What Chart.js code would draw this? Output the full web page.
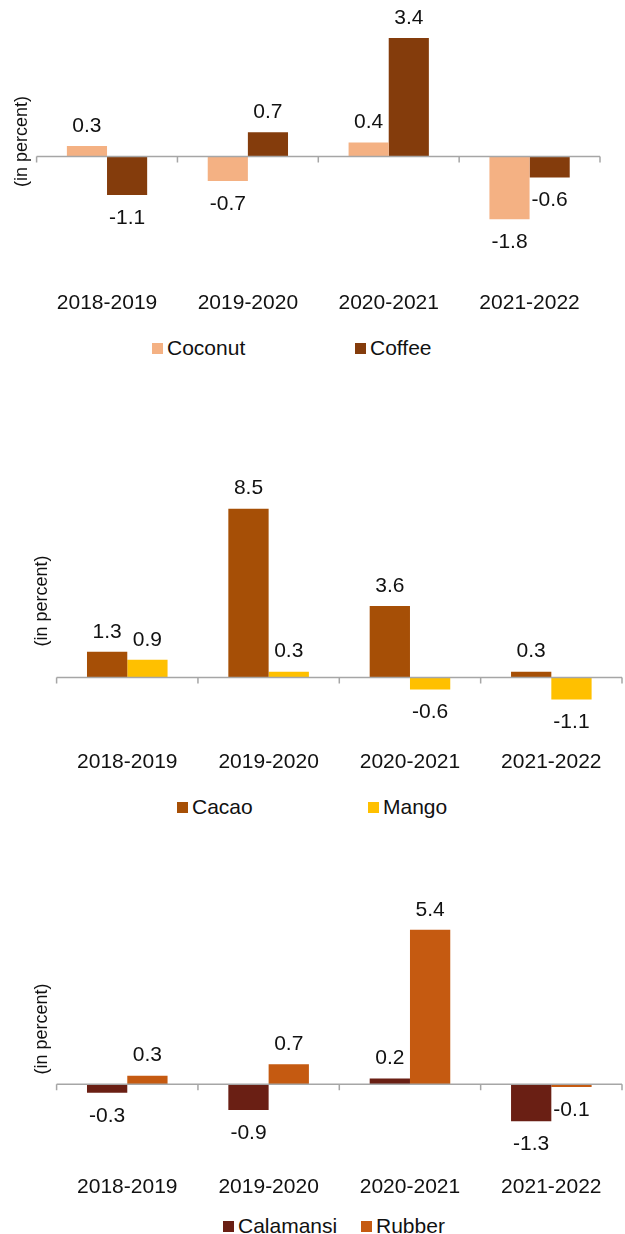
<!DOCTYPE html>
<html>
<head>
<meta charset="utf-8">
<script src="https://cdn.jsdelivr.net/npm/chart.js@4.4.1/dist/chart.umd.min.js"></script>
<style>
  body { margin: 0; background: #fff; width: 625px; height: 1234px; position: relative; overflow: hidden;
         font-family: "Liberation Sans", Arial, sans-serif; }
  canvas { position: absolute; left: 0; }
  .item { position: absolute; font-size: 21px; line-height: 24px; color: #111; white-space: nowrap; }
  .item i { display: inline-block; width: 11px; height: 11px; margin-right: 4px; vertical-align: 1px; }
</style>
</head>
<body>
<canvas id="chart1" width="625" height="324" style="top:0px"></canvas>
<canvas id="chart2" width="625" height="363" style="top:420px"></canvas>
<canvas id="chart3" width="625" height="368" style="top:840px"></canvas>

<div class="item" style="left:152px;top:336px"><i style="background:#F4B183"></i>Coconut</div>
<div class="item" style="left:355px;top:336px"><i style="background:#843C0C"></i>Coffee</div>
<div class="item" style="left:177px;top:795px"><i style="background:#A64F06"></i>Cacao</div>
<div class="item" style="left:368px;top:795px"><i style="background:#FFC000"></i>Mango</div>
<div class="item" style="left:223px;top:1214px"><i style="background:#6A1F14"></i>Calamansi</div>
<div class="item" style="left:361px;top:1214px"><i style="background:#C55A11"></i>Rubber</div>

<script>
// data (growth, in percent)
const years = ['2018-2019', '2019-2020', '2020-2021', '2021-2022']
const coconut = [0.3, -0.7, 0.4, -1.8]
const coffee = [-1.1, 0.7, 3.4, -0.6]
const cacao = [1.3, 8.5, 3.6, 0.3]
const mango = [0.9, 0.3, -0.6, -1.1]
const calamansi = [-0.3, -0.9, 0.2, -1.3]
const rubber = [0.3, 0.7, 5.4, -0.1]

Chart.defaults.font.family = '"Liberation Sans", Arial, sans-serif'
Chart.defaults.color = '#111'

// grey axis through zero with little tick marks between categories
const zeroAxis = {
  id: 'zeroAxis',
  afterDatasetsDraw(chart) {
    const { ctx, chartArea, scales: { x, y } } = chart
    const y0 = y.getPixelForValue(0)
    ctx.save()
    ctx.strokeStyle = '#a6a6a6'
    ctx.lineWidth = 1.5
    ctx.beginPath()
    ctx.moveTo(chartArea.left, y0)
    ctx.lineTo(chartArea.right, y0)
    for (let i = 0; i <= x.ticks.length; i++) {
      const px = x.getPixelForValue(i - 0.5)
      ctx.moveTo(px, y0)
      ctx.lineTo(px, y0 + 6)
    }
    ctx.stroke()
    ctx.restore()
  }
}

// value labels, above positive bars and below negative ones
const valueLabels = {
  id: 'valueLabels',
  afterDatasetsDraw(chart) {
    const { ctx } = chart
    ctx.save()
    ctx.font = '21px "Liberation Sans", Arial, sans-serif'
    ctx.fillStyle = '#111'
    ctx.textAlign = 'center'
    ctx.textBaseline = 'middle'
    chart.data.datasets.forEach((ds, i) => {
      chart.getDatasetMeta(i).data.forEach((bar, j) => {
        const v = ds.data[j]
        ctx.fillText(v.toFixed(1), bar.x, v >= 0 ? bar.y - 20 : bar.y + 23)
      })
    })
    ctx.restore()
  }
}

function makeChart(id, first, second, yMin, yMax, pad) {
  return new Chart(document.getElementById(id).getContext('2d'), {
    type: 'bar',
    data: {
      labels: years,
      datasets: [
        { label: first.name, data: first.values, backgroundColor: first.color, categoryPercentage: 0.57, barPercentage: 1 },
        { label: second.name, data: second.values, backgroundColor: second.color, categoryPercentage: 0.57, barPercentage: 1 }
      ]
    },
    options: {
      responsive: false,
      animation: false,
      layout: { padding: { left: pad.left, right: pad.right, top: pad.top, bottom: 0 } },
      plugins: { legend: { display: false }, tooltip: { enabled: false } },
      scales: {
        x: {
          grid: { display: false, drawTicks: false },
          border: { display: false },
          ticks: { font: { size: 21 }, padding: 8 }
        },
        y: {
          min: yMin,
          max: yMax,
          grid: { display: false, drawTicks: false },
          border: { display: false },
          ticks: { display: false },
          title: { display: true, text: '(in percent)', font: { size: 18 }, padding: { top: 4, bottom: 4 } }
        }
      }
    },
    plugins: [zeroAxis, valueLabels]
  })
}

makeChart('chart1',
  { name: 'Coconut', values: coconut, color: '#F4B183' },
  { name: 'Coffee', values: coffee, color: '#843C0C' },
  -3.62, 4.49, { left: 7, right: 25, top: 0 })

makeChart('chart2',
  { name: 'Cacao', values: cacao, color: '#A64F06' },
  { name: 'Mango', values: mango, color: '#FFC000' },
  -3.23, 10.95, { left: 27, right: 3, top: 40 })

makeChart('chart3',
  { name: 'Calamansi', values: calamansi, color: '#6A1F14' },
  { name: 'Rubber', values: rubber, color: '#C55A11' },
  -2.89, 6.76, { left: 27, right: 3, top: 51 })
</script>
</body>
</html>
